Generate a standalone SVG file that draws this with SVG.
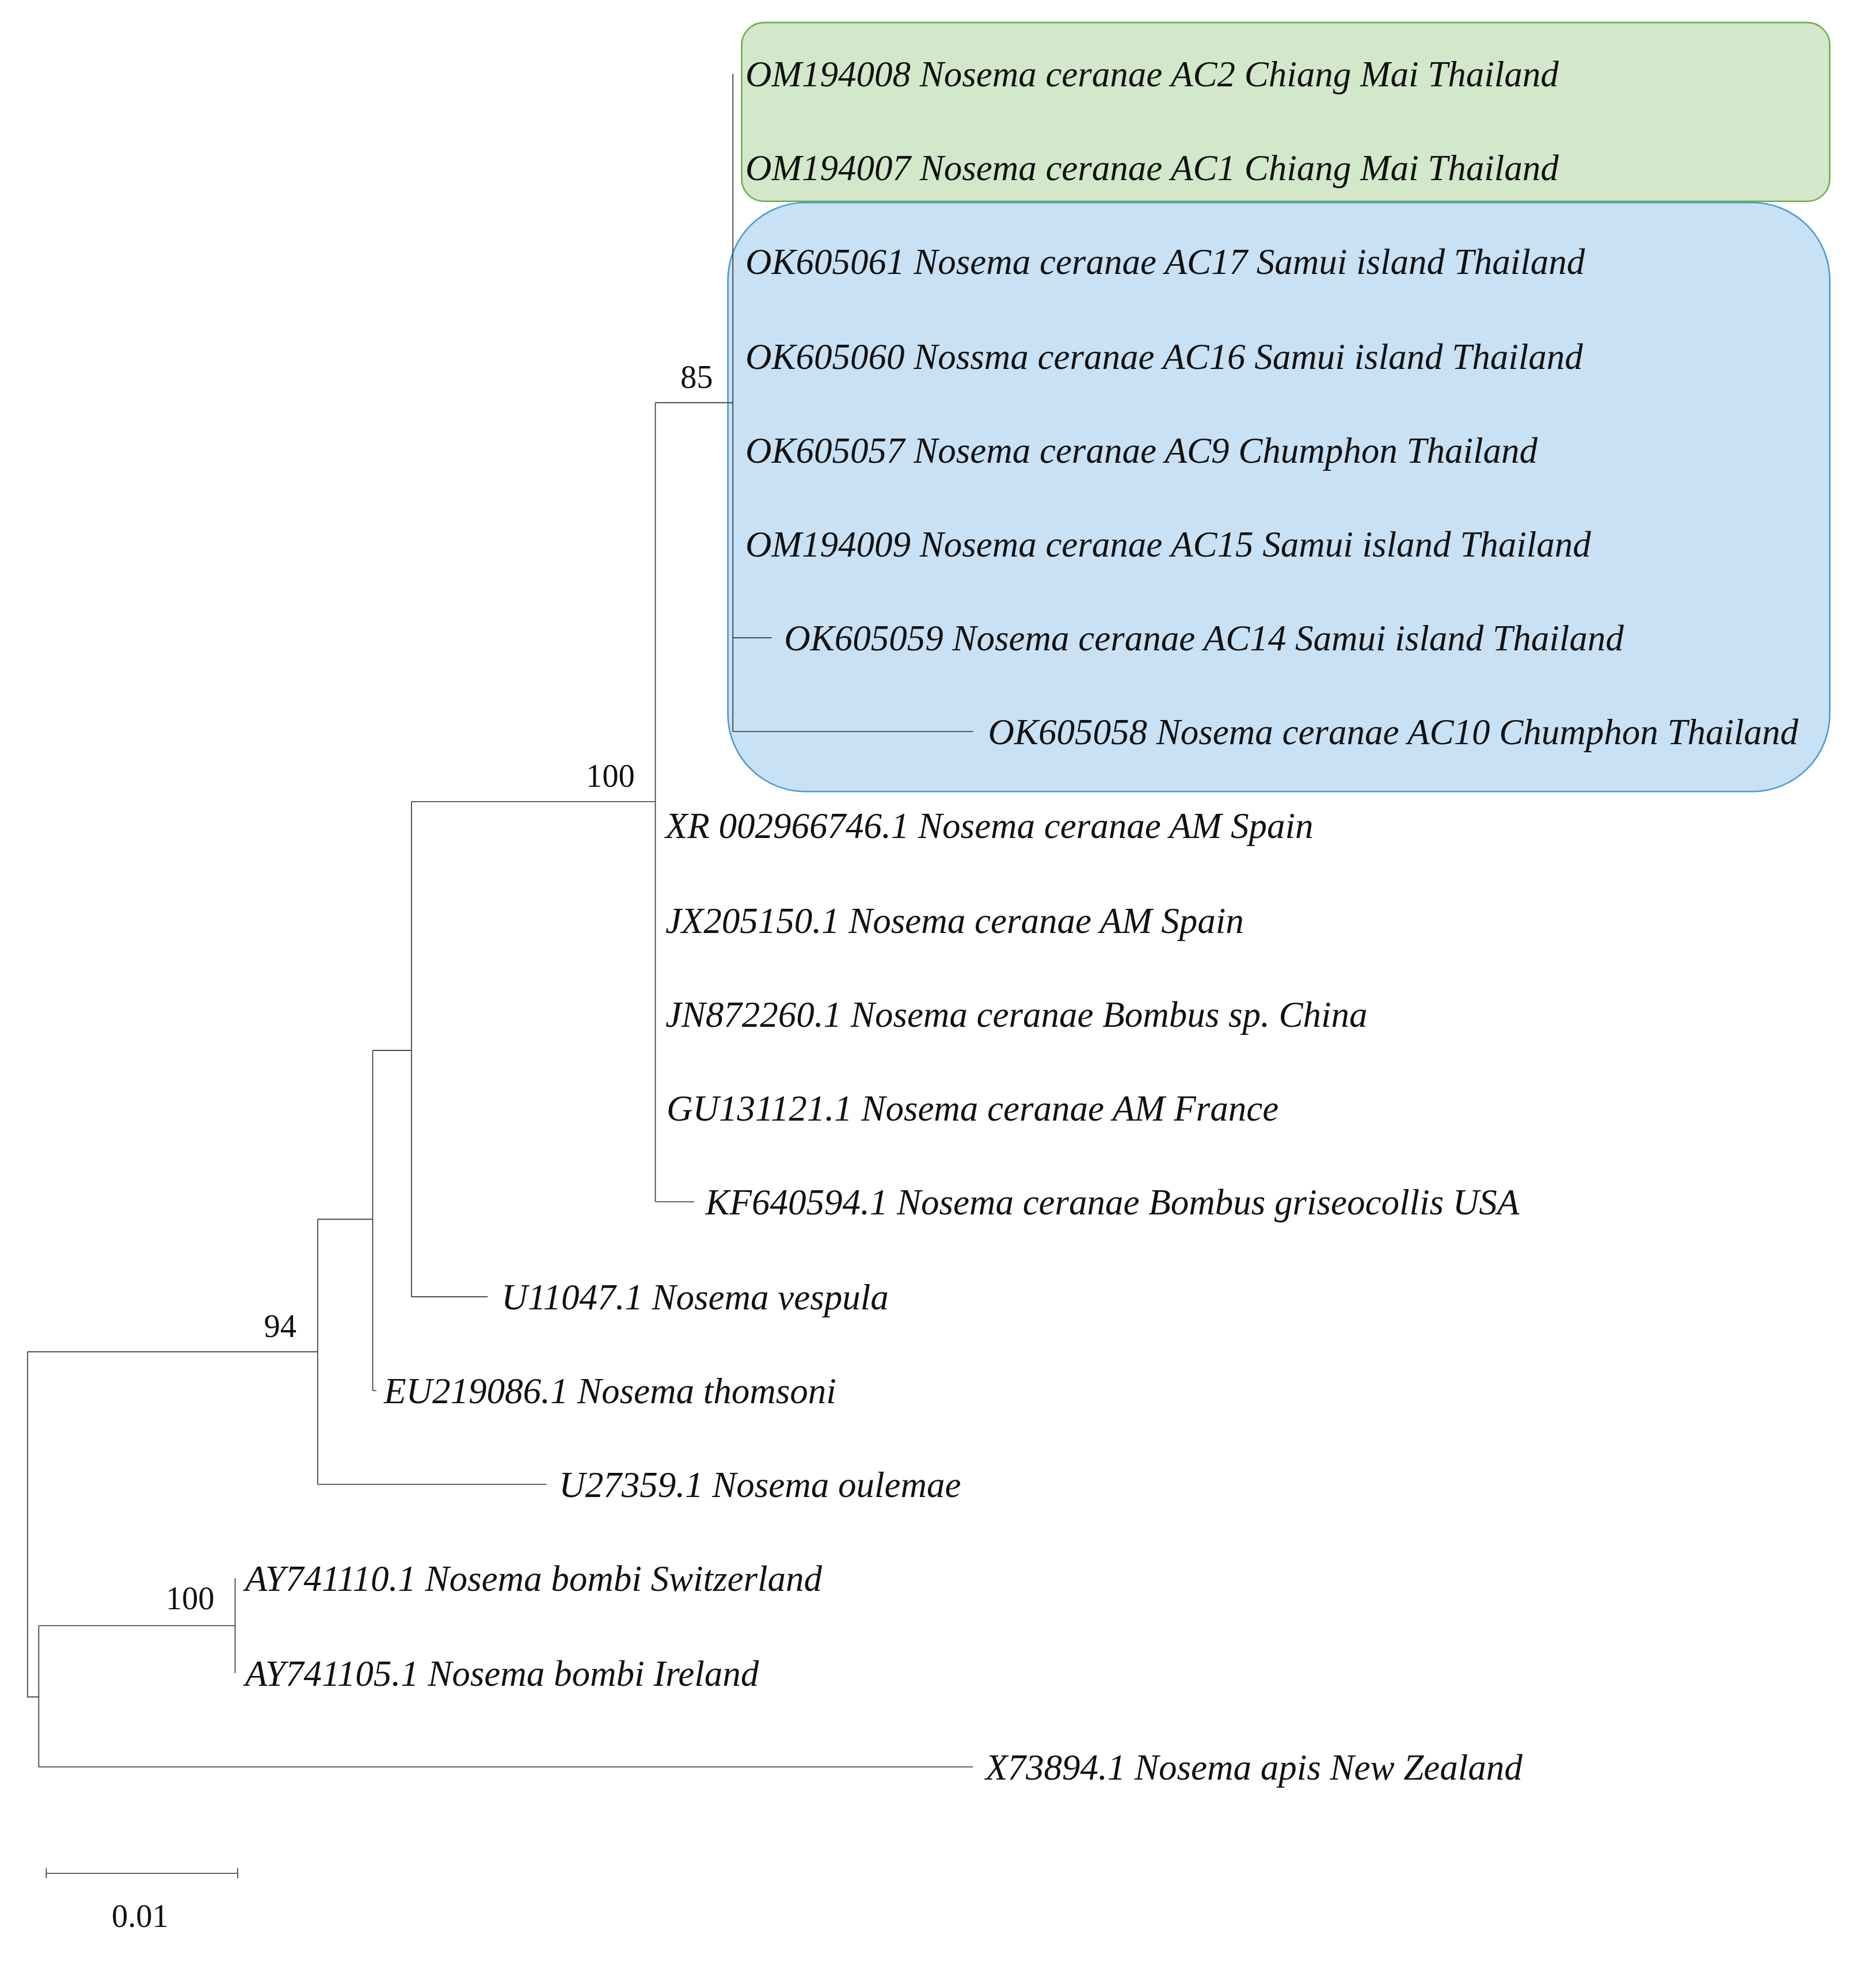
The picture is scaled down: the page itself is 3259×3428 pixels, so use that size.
<svg xmlns="http://www.w3.org/2000/svg" width="3259" height="3428" viewBox="0 0 3259 3428">
<style>
.t{font-family:"Liberation Serif","Times New Roman",serif;font-style:italic;font-size:29px;fill:#111}
.b{font-family:"Liberation Serif","Times New Roman",serif;font-size:26px;fill:#111;text-anchor:middle}
.e{fill:none;stroke:#333;stroke-width:0.75}
</style>
<rect width="3259" height="3428" fill="#fff"/>
<g transform="scale(2.1727)">
<g id="boxes">
<rect x="593" y="18" width="870" height="143" rx="18" fill="#d3e7cb" stroke="#70ad47" stroke-width="1.2"/>
<rect x="582" y="162" width="881" height="471" rx="62" fill="#c9e1f4" stroke="#4a9ad4" stroke-width="1.2"/>
</g>
<g id="connectors" class="e">
<path d="M22 1081V1357H31M31 1300V1413M31 1300H188M188 1262V1338M31 1413H778"/>
<path d="M22 1081H254M254 975V1187M254 1187H437M254 975H298M298 840V1112M298 1112H301M298 840H329M329 641V1037M329 1037H390M329 641H524M524 322V961M524 961H555M524 322H586M586 59V585M586 510H617M586 585H778"/>
<path d="M37 1498H190M37 1494V1502M190 1494V1502"/>
</g>
<g id="labels">
<text class="b" x="557" y="310">85</text>
<text class="b" x="488" y="629">100</text>
<text class="b" x="224" y="1069">94</text>
<text class="b" x="152" y="1287">100</text>
<text class="b" x="112" y="1541">0.01</text>
</g>
<g id="leaves">
<text class="t" x="596" y="69">OM194008 Nosema ceranae AC2 Chiang Mai Thailand</text>
<text class="t" x="596" y="144">OM194007 Nosema ceranae AC1 Chiang Mai Thailand</text>
<text class="t" x="596" y="219">OK605061 Nosema ceranae AC17 Samui island Thailand</text>
<text class="t" x="596" y="295">OK605060 Nossma ceranae AC16 Samui island Thailand</text>
<text class="t" x="596" y="370">OK605057 Nosema ceranae AC9 Chumphon Thailand</text>
<text class="t" x="596" y="445">OM194009 Nosema ceranae AC15 Samui island Thailand</text>
<text class="t" x="627" y="520">OK605059 Nosema ceranae AC14 Samui island Thailand</text>
<text class="t" x="790" y="595">OK605058 Nosema ceranae AC10 Chumphon Thailand</text>
<text class="t" x="532" y="670">XR 002966746.1 Nosema ceranae AM Spain</text>
<text class="t" x="532" y="746">JX205150.1 Nosema ceranae AM Spain</text>
<text class="t" x="532" y="821">JN872260.1 Nosema ceranae Bombus sp. China</text>
<text class="t" x="533" y="896">GU131121.1 Nosema ceranae AM France</text>
<text class="t" x="564" y="971">KF640594.1 Nosema ceranae Bombus griseocollis USA</text>
<text class="t" x="401" y="1047">U11047.1 Nosema vespula</text>
<text class="t" x="307" y="1122">EU219086.1 Nosema thomsoni</text>
<text class="t" x="447" y="1197">U27359.1 Nosema oulemae</text>
<text class="t" x="196" y="1272">AY741110.1 Nosema bombi Switzerland</text>
<text class="t" x="196" y="1348">AY741105.1 Nosema bombi Ireland</text>
<text class="t" x="788" y="1423">X73894.1 Nosema apis New Zealand</text>
</g>
</g>
</svg>
